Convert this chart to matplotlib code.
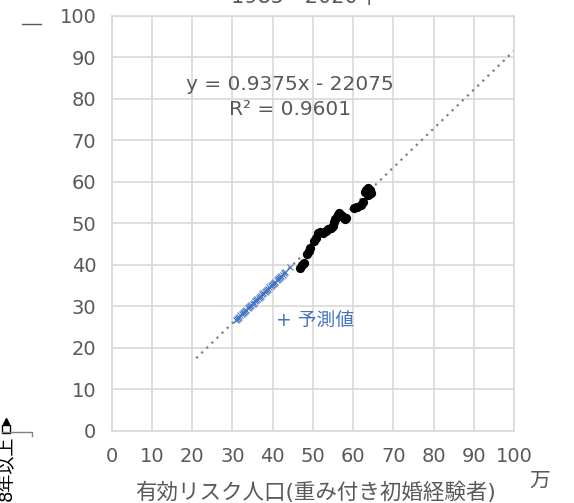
import matplotlib
matplotlib.use("Agg")
import matplotlib.pyplot as plt
from matplotlib.lines import Line2D

plt.rcParams['font.family'] = ['DejaVu Sans', 'Noto Sans CJK JP']

# Observed values 1985-2020 (unit: 万人)
actual_x = [46.8, 47.3, 47.8, 48.5, 49.0, 49.4, 50.4, 50.9, 51.4, 51.8, 52.4, 53.2,
            53.8, 54.5, 55.0, 55.3, 55.6, 55.9, 56.2, 56.6, 57.0, 57.5, 58.3, 58.0,
            56.4, 60.3, 60.9, 62.0, 62.5, 63.0, 63.2, 63.7, 64.2, 64.5, 63.6, 64.0]
actual_y = [39.3, 40.0, 40.3, 42.6, 43.3, 44.1, 45.8, 46.4, 47.6, 48.0, 47.7, 48.1,
            48.5, 48.9, 49.3, 50.2, 50.9, 51.5, 52.0, 52.5, 51.9, 51.5, 51.2, 51.0,
            51.7, 53.6, 53.9, 54.5, 55.0, 57.5, 58.1, 58.4, 58.0, 57.3, 56.8, 57.0]

# Projected values (unit: 万人)
pred_x = [30.8, 31.1, 31.4, 31.7, 32.0, 32.3, 32.6, 32.9, 33.2, 33.5, 33.8, 34.1,
          34.4, 34.7, 35.0, 35.3, 35.6, 35.9, 36.2, 36.5, 36.8, 37.1, 37.4, 37.7,
          38.0, 38.3, 38.6, 38.9, 39.2, 39.5, 39.8, 40.1, 40.4, 40.7, 41.0, 41.3,
          41.6, 41.9, 42.2, 42.5, 42.8, 43.1, 44.3]
pred_y = [26.67, 26.95, 27.23, 27.51, 27.79, 28.07, 28.36, 28.64, 28.92, 29.20,
          29.48, 29.76, 30.04, 30.32, 30.61, 30.89, 31.17, 31.45, 31.73, 32.01,
          32.29, 32.57, 32.86, 33.14, 33.42, 33.70, 33.98, 34.26, 34.54, 34.82,
          35.11, 35.39, 35.67, 35.95, 36.23, 36.51, 36.79, 37.07, 37.36, 37.64,
          37.92, 38.20, 39.40]

# Linear trend (raw units): y = 0.9375x - 22075
slope = 0.9375
intercept = -22075
trend_x = [21, 100]

ticks = [0, 10, 20, 30, 40, 50, 60, 70, 80, 90, 100]

grey = '#595959'
grid_c = '#d9d9d9'
blue = '#4472C4'

fig = plt.figure(figsize=(5.74, 5.03), dpi=100)
ax = fig.add_axes([0.1946, 0.1437, 0.7009, 0.8251])

ax.set_xlim(0, 100)
ax.set_ylim(0, 100)
ax.set_xticks(ticks)
ax.set_yticks(ticks)
ax.grid(True, color=grid_c, lw=1.2)
ax.set_axisbelow(True)
for s in ax.spines.values():
    s.set_color(grid_c)
    s.set_linewidth(1.2)
ax.tick_params(length=0, labelsize=14, colors=grey)
ax.tick_params(axis='x', pad=12)
ax.tick_params(axis='y', pad=11)

# trend line
ty = [slope * x + intercept / 1e4 for x in trend_x]
ax.plot(trend_x, ty, linestyle=(0, (1, 2.2)), color='#7f7f7f', lw=1.6, zorder=2)

ax.scatter(actual_x, actual_y, s=32, color='black', zorder=3)
ax.plot(pred_x, pred_y, linestyle='none', marker='x', markersize=5,
        markeredgewidth=0.8, color=blue, zorder=3)

ax.text(44.3, 83.5, 'y = 0.9375x - 22075', ha='center', va='center',
        fontsize=14.5, color=grey)
ax.text(44.3, 77.3, 'R² = 0.9601', ha='center', va='center',
        fontsize=14.5, color=grey)
ax.text(40.8, 26.6, '+ 予測値', ha='left', va='center', fontsize=13.5,
        color=blue)

# axis captions
fig.text(315 / 574, 1 - 492 / 503, '有効リスク人口(重み付き初婚経験者)',
         ha='center', va='center', fontsize=15.5, color=grey)
fig.text(540 / 574, 1 - 481 / 503, '万', ha='center', va='center',
         fontsize=15, color=grey)

# title (upper part lies above the figure edge)
fig.text(305 / 574, 1 - 3 / 503, '1985 - 2020年', ha='center', va='baseline',
         fontsize=15, color=grey)

# left-side caption, rotated
fig.text(6 / 574, 1 - 436 / 503, '8年以上', ha='center', va='top',
         rotation=90, fontsize=13, color='black')
fig.add_artist(Line2D([6 / 574], [1 - 421 / 503], marker='^', markersize=5,
                      color='black', transform=fig.transFigure))
fig.add_artist(Line2D([6 / 574], [1 - 429 / 503], marker='s', markersize=6,
                      markerfacecolor='none', markeredgecolor='black',
                      transform=fig.transFigure))
fig.add_artist(Line2D([2 / 574, 32 / 574, 32 / 574],
                      [1 - 432 / 503, 1 - 432 / 503, 1 - 436 / 503],
                      transform=fig.transFigure, color='#7f7f7f', lw=1))
fig.add_artist(Line2D([22 / 574, 41 / 574], [1 - 24 / 503, 1 - 24 / 503],
                      transform=fig.transFigure, color=grey, lw=1))

fig.savefig('out.png', dpi=100)
